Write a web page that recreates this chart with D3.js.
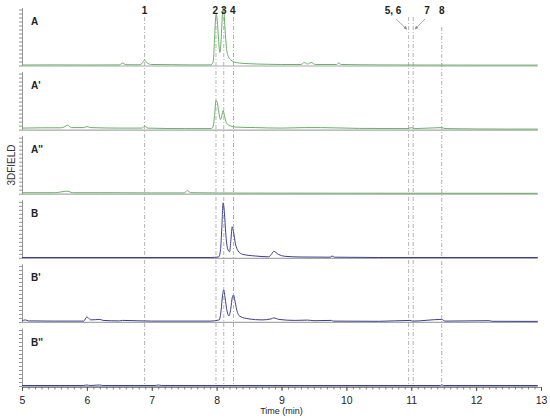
<!DOCTYPE html>
<html>
<head>
<meta charset="utf-8">
<script src="https://cdn.jsdelivr.net/npm/d3@7"></script>
<style>
  body { margin: 0; background: #fff; }
  svg { font-family: "Liberation Sans", Arial, sans-serif; }
</style>
</head>
<body>
<svg id="chart" width="550" height="418"></svg>
<script>
// Chart size
const w = 550;
const h = 418;

// Panel names, top to bottom
const panelNames = ["A", "A'", "A''", "B", "B'", "B''"];
// Trace colour for each panel (green = A set, navy = B set)
const panelColors = ["#68b068", "#68b068", "#68b068", "#3c3f8c", "#3c3f8c", "#3c3f8c"];

// Traces: [time (min), signal]
const traceA = [[5.0,0.5],[5.5,0.6],[6.0,0.5],[6.5,0.6],[6.55,2.5],[6.6,0.8],[6.8,0.7],[6.85,2],[6.89,5.5],[6.93,2.5],[7.0,1],
  [7.3,0.8],[7.6,0.6],[7.9,0.6],[7.93,1.5],[7.95,5],[7.97,30],[7.985,48],[7.995,51.5],[8.01,45],[8.03,26],[8.05,13],
  [8.07,26],[8.09,52],[8.1,58],[8.115,52],[8.13,36],[8.15,19],[8.18,9],[8.22,5.5],[8.27,3.5],[8.35,2.5],[8.5,1.8],[8.8,1.2],
  [9.0,1],[9.3,1],[9.35,3],[9.4,1.5],[9.46,3],[9.52,1],[9.85,1],[9.88,2.5],[9.92,1],[10.5,0.6],[11.0,0.5],[12.0,0.4],[12.95,0.4]];
const traceA1 = [[5.0,1.5],[5.3,1.8],[5.6,1.8],[5.66,3],[5.7,4.5],[5.76,2],[5.95,2],[6.0,3],[6.06,2],[6.5,1.5],[6.85,1.5],
  [6.89,3.5],[6.94,1.5],[7.5,1],[7.9,1],[7.94,2],[7.97,15],[7.99,29],[8.01,27],[8.03,19],[8.06,10],[8.08,14],[8.1,19],
  [8.12,14],[8.15,7],[8.2,4],[8.3,2.5],[8.6,2],[9.0,1.5],[9.35,2],[9.6,2],[10.2,1.2],[10.95,1],[11.0,2],[11.05,1],[11.47,2],
  [11.52,1],[12.5,0.5],[12.95,0.5]];
const traceA2 = [[5.0,1],[5.5,1],[5.7,2.5],[5.75,1.5],[5.8,1],[6.2,1],[7.0,0.8],[7.5,0.8],[7.55,3],[7.6,1],[8.5,0.6],
  [10.0,0.5],[12.95,0.4]];
const traceB = [[5.0,0.3],[7.9,0.3],[8.03,0.8],[8.06,8],[8.08,30],[8.1,55],[8.12,45],[8.14,25],[8.17,9],[8.2,6],[8.22,18],
  [8.24,31],[8.26,26],[8.29,14],[8.33,7],[8.4,3.5],[8.6,1.8],[8.8,1],[8.85,4],[8.88,6.5],[8.95,3.5],[9.05,1.5],[9.3,0.8],
  [9.75,0.6],[9.78,1.8],[9.82,0.6],[10.5,0.3],[12.95,0.3]];
const traceB1 = [[5.0,1],[5.05,2],[5.1,1],[5.5,0.8],[5.95,0.8],[6.0,5],[6.06,2],[6.2,2.5],[6.25,1.5],[6.5,1],[6.55,1.5],
  [7.0,0.8],[7.9,0.8],[8.04,2],[8.07,12],[8.09,26],[8.11,32],[8.13,24],[8.16,11],[8.19,6],[8.22,14],[8.24,24],[8.26,27],
  [8.28,22],[8.31,12],[8.36,5.5],[8.5,3],[8.7,2],[8.84,3],[8.88,4],[8.96,2.5],[9.2,1.5],[9.4,1.8],[9.5,1.2],[9.77,1.5],
  [9.8,0.8],[10.5,0.6],[10.98,1.5],[11.02,0.8],[11.47,2.5],[11.52,0.8],[12.2,1.2],[12.25,0.6],[12.95,0.5]];
const traceB2 = [[5.0,0.5],[5.95,0.5],[6.0,1],[6.05,0.5],[6.2,1],[6.25,0.5],[7.05,0.5],[7.1,1],[7.15,0.5],[11.45,0.5],
  [11.47,1],[11.5,0.5],[12.95,0.5]];
const traces = [traceA, traceA1, traceA2, traceB, traceB1, traceB2];

// Marked peaks: label and retention time of the dashed guide line
const peakLabels = ["1", "2", "3", "4", "5, 6", "7", "8"];
const peakTimes = [6.89, 7.99, 8.11, 8.26, 10.96, 11.03, 11.47];

// x axis ticks
const xTicks = [5, 6, 7, 8, 9, 10, 11, 12, 13];

const svg = d3.select("#chart");

// Time scale shared by every panel
const x = d3.scaleLinear().domain([5, 13]).range([22, 541]);

// Each panel: baseline position and a small signal scale
const firstBase = 65.5;
const step = 64.1;
const panelH = 58;

// dashed guide lines for the peaks (drawn first, under the traces)
svg.selectAll(".guide")
  .data(peakTimes)
  .enter()
  .append("line")
  .attr("class", "guide")
  .attr("x1", d => x(d)).attr("x2", d => x(d))
  .attr("y1", (d, i) => i === 6 ? 27 : 17)
  .attr("y2", firstBase + step * 5)
  .attr("stroke", "#a0a0a0")
  .attr("stroke-width", 0.8)
  .attr("stroke-dasharray", "4,2,1,2");

panelNames.forEach((name, i) => {
  const base = firstBase + step * i;
  const y = d3.scaleLinear().domain([0, panelH]).range([base, base - panelH]);
  const g = svg.append("g");

  // left axis with small ticks only
  g.append("g")
    .attr("transform", `translate(${x(5)},0)`)
    .call(d3.axisLeft(y).tickValues(d3.range(0, 59, 4)).tickSize(3).tickSizeOuter(0).tickFormat(""))
    .call(a => a.selectAll("line,path").attr("stroke", "#666").attr("stroke-width", 0.7));

  // gray baseline
  g.append("line")
    .attr("x1", x(5)).attr("x2", x(12.95))
    .attr("y1", y(0) + 0.5).attr("y2", y(0) + 0.5)
    .attr("stroke", "#a8a8a8")
    .attr("stroke-width", 1.2);

  // signal trace
  const line = d3.line()
    .x(d => x(d[0]))
    .y(d => y(d[1]))
    .curve(d3.curveMonotoneX);
  g.append("path")
    .datum(traces[i])
    .attr("d", line)
    .attr("fill", "none")
    .attr("stroke", panelColors[i])
    .attr("stroke-width", 1);

  // panel label
  g.append("text")
    .attr("x", 31)
    .attr("y", base - 40.5)
    .style("font-size", "10px")
    .style("font-weight", "bold")
    .attr("fill", "#222")
    .text(name);
});

// bottom time axis: major ticks + minor ticks every 0.1 min
const bottom = firstBase + step * 5;
svg.append("g")
  .attr("transform", `translate(0,${bottom + 1})`)
  .call(d3.axisBottom(x).tickValues(d3.range(5, 13.001, 0.1)).tickSize(2.5).tickFormat(""))
  .call(a => a.selectAll("line,path").attr("stroke", "#555").attr("stroke-width", 0.7));
svg.append("g")
  .attr("transform", `translate(0,${bottom + 1})`)
  .call(d3.axisBottom(x).tickValues(xTicks).tickSize(4).tickPadding(6).tickFormat(d3.format("d")))
  .call(a => a.select(".domain").remove())
  .call(a => a.selectAll("line").attr("stroke", "#555"))
  .call(a => a.selectAll("text").style("font-size", "10.5px").style("font-family", "Liberation Sans, Arial, sans-serif").attr("fill", "#222"));

// axis titles
svg.append("text")
  .attr("x", x(9))
  .attr("y", 414)
  .attr("text-anchor", "middle")
  .style("font-size", "9px")
  .attr("fill", "#222")
  .text("Time (min)");
svg.append("text")
  .attr("transform", "translate(15,165) rotate(-90)")
  .attr("text-anchor", "middle")
  .style("font-size", "10px")
  .attr("fill", "#333")
  .text("3DFIELD");

// peak labels along the top
const labelX = [x(6.89), x(7.98), x(8.11), x(8.25), 393, 427, x(11.47)];
svg.selectAll(".peak")
  .data(peakLabels)
  .enter()
  .append("text")
  .attr("class", "peak")
  .attr("x", (d, i) => labelX[i])
  .attr("y", 14)
  .attr("text-anchor", "middle")
  .style("font-size", "10px")
  .style("font-weight", "bold")
  .attr("fill", "#222")
  .text(d => d);

// small arrows pointing at the close pair of lines 5,6 and 7
svg.append("defs").append("marker")
  .attr("id", "arr")
  .attr("viewBox", "0 0 6 6")
  .attr("refX", 5).attr("refY", 3)
  .attr("markerWidth", 5).attr("markerHeight", 5)
  .attr("orient", "auto")
  .append("path")
  .attr("d", "M0,0 L6,3 L0,6 z")
  .attr("fill", "#888");
svg.append("line")
  .attr("x1", 396).attr("y1", 19).attr("x2", x(10.96) - 2).attr("y2", 29)
  .attr("stroke", "#888").attr("stroke-width", 0.7).attr("marker-end", "url(#arr)");
svg.append("line")
  .attr("x1", 425).attr("y1", 19).attr("x2", x(11.03) + 2).attr("y2", 29)
  .attr("stroke", "#888").attr("stroke-width", 0.7).attr("marker-end", "url(#arr)");
</script>
</body>
</html>
